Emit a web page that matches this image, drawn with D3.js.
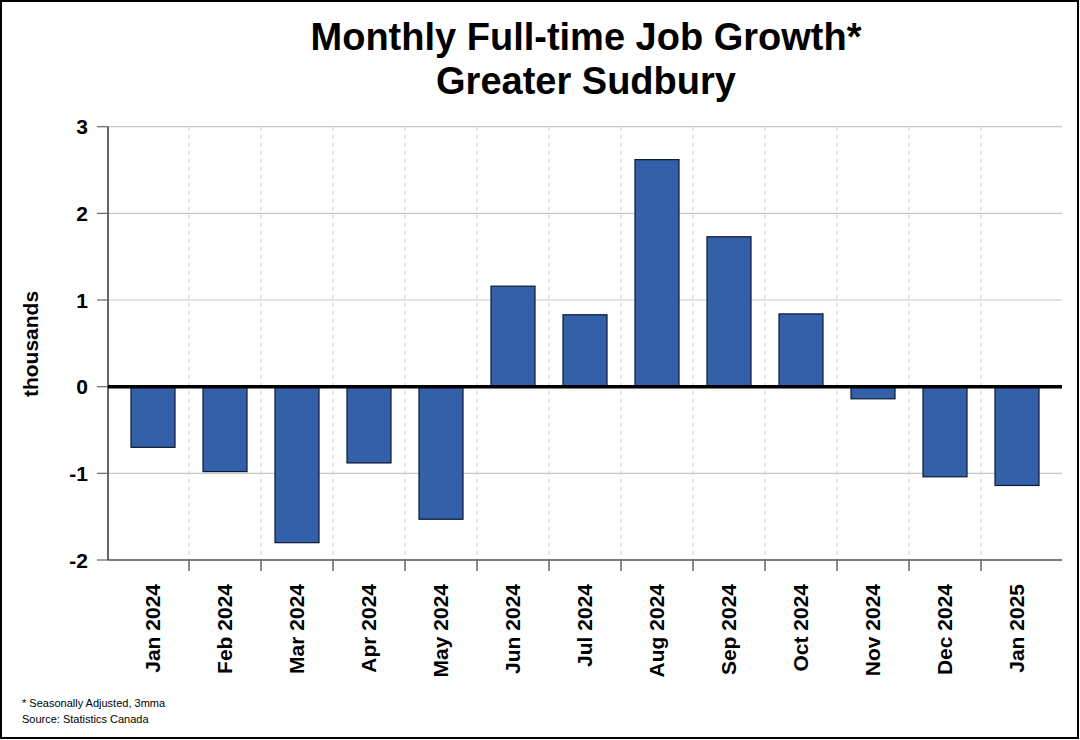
<!DOCTYPE html>
<html>
<head>
<meta charset="utf-8">
<script src="https://cdn.jsdelivr.net/npm/d3@7"></script>
<style>
  html, body { margin: 0; padding: 0; background: #fff; }
  svg { display: block; font-family: "Liberation Sans", Arial, sans-serif; }
</style>
</head>
<body>
<svg id="chart" width="1080" height="740"></svg>
<script>
const categories = ["Jan 2024","Feb 2024","Mar 2024","Apr 2024","May 2024","Jun 2024","Jul 2024","Aug 2024","Sep 2024","Oct 2024","Nov 2024","Dec 2024","Jan 2025"];
const values = [-0.70, -0.98, -1.80, -0.88, -1.53, 1.16, 0.83, 2.62, 1.73, 0.84, -0.14, -1.04, -1.14];
const yTicks = [3, 2, 1, 0, -1, -2];
const titleLines = ["Monthly Full-time Job Growth*", "Greater Sudbury"];
const yLabel = "thousands";
const notes = ["* Seasonally Adjusted, 3mma", "Source: Statistics Canada"];

const svg = d3.select("#chart");
const W = 1080, H = 740;
const plot = { left: 108, right: 1062, top: 126.7, bottom: 560 };

// outer border
svg.append("rect").attr("x", 1).attr("y", 1).attr("width", W - 3).attr("height", H - 3)
  .attr("fill", "#fff").attr("stroke", "#000").attr("stroke-width", 2);

const y = d3.scaleLinear().domain([-2, 3]).range([plot.bottom, plot.top]);
const x = d3.scaleBand().domain(categories).range([117, 1053])
  .paddingInner(0.3889).paddingOuter(0.1944);
const step = x.step();

// horizontal gridlines
svg.append("g").selectAll("line").data(yTicks.filter(d => d !== 0 && d !== -2)).join("line")
  .attr("x1", plot.left).attr("x2", plot.right)
  .attr("y1", d => y(d)).attr("y2", d => y(d))
  .attr("stroke", "#c6c6c6").attr("stroke-width", 1.2);

// vertical dashed gridlines at category boundaries
const boundaries = categories.slice(0, -1).map(c => x(c) + x.bandwidth() + step * x.paddingInner() / 2);
svg.append("g").selectAll("line").data(boundaries).join("line")
  .attr("x1", d => d).attr("x2", d => d)
  .attr("y1", plot.top).attr("y2", plot.bottom)
  .attr("stroke", "#d2d2d2").attr("stroke-width", 1.2).attr("stroke-dasharray", "4,4");

// bars
svg.append("g").selectAll("rect").data(values).join("rect")
  .attr("x", (d, i) => x(categories[i]))
  .attr("width", x.bandwidth())
  .attr("y", d => y(Math.max(0, d)))
  .attr("height", d => Math.abs(y(d) - y(0)))
  .attr("fill", "#3460aa")
  .attr("stroke", "#0c1a33").attr("stroke-width", 1.2);

// zero line
svg.append("line").attr("x1", plot.left).attr("x2", plot.right)
  .attr("y1", y(0)).attr("y2", y(0)).attr("stroke", "#000").attr("stroke-width", 3.5);

// left axis
svg.append("line").attr("x1", plot.left).attr("x2", plot.left)
  .attr("y1", plot.top).attr("y2", plot.bottom).attr("stroke", "#000").attr("stroke-width", 1.2);
svg.append("g").selectAll("line").data(yTicks).join("line")
  .attr("x1", plot.left - 11).attr("x2", plot.left)
  .attr("y1", d => y(d)).attr("y2", d => y(d))
  .attr("stroke", "#666").attr("stroke-width", 1.2);
svg.append("g").selectAll("text").data(yTicks).join("text")
  .attr("x", 88).attr("y", d => y(d)).attr("dy", "0.36em")
  .attr("text-anchor", "end").attr("font-size", 21).attr("font-weight", "bold")
  .text(d => String(d));

// bottom axis
svg.append("line").attr("x1", plot.left).attr("x2", plot.right)
  .attr("y1", plot.bottom).attr("y2", plot.bottom).attr("stroke", "#000").attr("stroke-width", 1.2);
svg.append("g").selectAll("line").data(boundaries).join("line")
  .attr("x1", d => d).attr("x2", d => d)
  .attr("y1", plot.bottom).attr("y2", plot.bottom + 11)
  .attr("stroke", "#666").attr("stroke-width", 1.5);
svg.append("g").selectAll("text").data(categories).join("text")
  .attr("transform", d => `translate(${x(d) + x.bandwidth() / 2},584) rotate(-90)`)
  .attr("dy", "0.35em")
  .attr("text-anchor", "end").attr("font-size", 21).attr("font-weight", "bold")
  .text(d => d);

// y label
svg.append("text").attr("transform", `translate(31,344) rotate(-90)`)
  .attr("dy", "0.35em").attr("text-anchor", "middle")
  .attr("font-size", 21).attr("font-weight", "bold").text(yLabel);

// title
svg.append("g").selectAll("text").data(titleLines).join("text")
  .attr("x", 586).attr("y", (d, i) => 50 + i * 44)
  .attr("text-anchor", "middle").attr("font-size", 38).attr("font-weight", "bold")
  .text(d => d);

// notes
svg.append("g").selectAll("text").data(notes).join("text")
  .attr("x", 22).attr("y", (d, i) => 707 + i * 16)
  .attr("font-size", 11).text(d => d);
</script>
</body>
</html>
